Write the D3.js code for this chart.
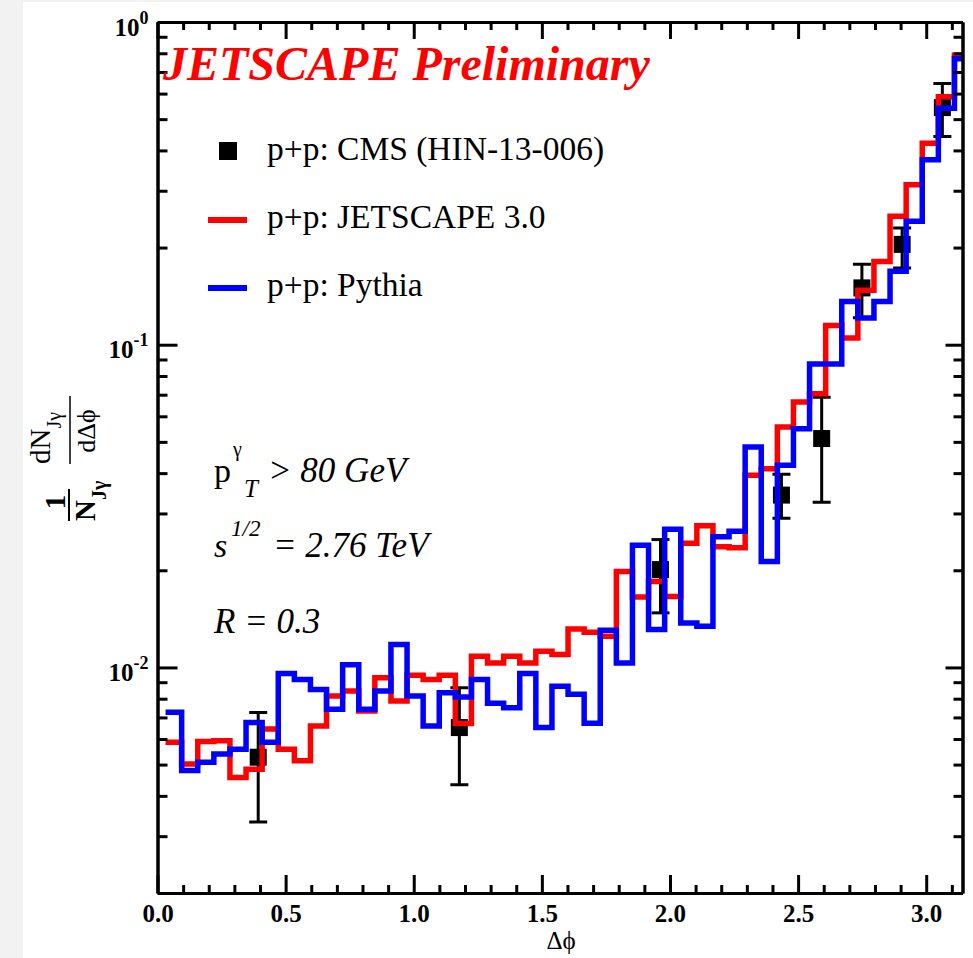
<!DOCTYPE html>
<html>
<head>
  <meta charset="utf-8">
  <title>Photon-jet azimuthal correlation, p+p</title>
  <script src="https://d3js.org/d3.v7.min.js"></script>
  <style>
    body { margin: 0; background: #f2f2f2; }
    text { font-family: "Liberation Serif", "Times New Roman", serif; }
    .tick line { stroke: #000; stroke-width: 3; }
    .domain { stroke: #000; stroke-width: 3; }
  </style>
</head>
<body>
  <div id="chart"></div>

  <script>
    // histogram bins: 50 bins of width pi/50, bin k centred at k*pi/50
    const nBins = 50;
    const binWidth = Math.PI / nBins;

    // p+p: JETSCAPE 3.0 (red)
    const jetscape = [
      0.00586, 0.00502, 0.00589, 0.00593, 0.00456, 0.00484, 0.00644, 0.00558, 0.00514, 0.00659,
      0.00816, 0.00845, 0.00733, 0.00929, 0.00787, 0.00945, 0.00918, 0.00945, 0.00670, 0.01084,
      0.01033, 0.01084, 0.01033, 0.01123, 0.01097, 0.01316, 0.01285, 0.01249, 0.01983, 0.01653,
      0.01847, 0.01660, 0.02426, 0.02750, 0.02366, 0.02350, 0.03940, 0.04130, 0.05560, 0.06640,
      0.07050, 0.11460, 0.10500, 0.14750, 0.18100, 0.25000, 0.31300, 0.42100, 0.58700, 0.78900
    ];

    // p+p: Pythia (blue)
    const pythia = [
      0.00726, 0.00479, 0.00508, 0.00539, 0.00558, 0.00675, 0.00586, 0.00958, 0.00918, 0.00855,
      0.00742, 0.01020, 0.00742, 0.00845, 0.01178, 0.00816, 0.00659, 0.00835, 0.00810, 0.00918,
      0.00775, 0.00750, 0.00958, 0.00652, 0.00875, 0.00826, 0.00672, 0.01303, 0.01033, 0.02390,
      0.01310, 0.02680, 0.01374, 0.01342, 0.02540, 0.02640, 0.04820, 0.02130, 0.04230, 0.05490,
      0.08720, 0.08720, 0.13600, 0.12100, 0.13600, 0.16900, 0.24140, 0.37400, 0.54000, 0.77000
    ];

    // p+p: CMS (HIN-13-006)
    const cmsX    = [0.393, 1.178, 1.963, 2.435, 2.592, 2.749, 2.906, 3.063];
    const cmsY    = [0.00527, 0.00651, 0.0201, 0.0342, 0.0512, 0.150, 0.2046, 0.543];
    const cmsHigh = [0.00725, 0.00865, 0.0249, 0.0397, 0.0688, 0.1774, 0.230, 0.645];
    const cmsLow  = [0.00332, 0.00433, 0.01476, 0.0290, 0.0325, 0.1213, 0.173, 0.442];

    const xMajorTicks = [0, 0.5, 1.0, 1.5, 2.0, 2.5, 3.0];
    const xMinorTicks = [0.1, 0.2, 0.3, 0.4, 0.6, 0.7, 0.8, 0.9, 1.1, 1.2, 1.3, 1.4, 1.6, 1.7, 1.8, 1.9,
                         2.1, 2.2, 2.3, 2.4, 2.6, 2.7, 2.8, 2.9, 3.1];
    const yMajorTicks = [1, 0.1, 0.01];
    const yExponents = ["0", "-1", "-2"];
    const yMinorTicks = [0.002, 0.003, 0.004, 0.005, 0.006, 0.007, 0.008, 0.009,
                         0.02, 0.03, 0.04, 0.05, 0.06, 0.07, 0.08, 0.09,
                         0.2, 0.3, 0.4, 0.5, 0.6, 0.7, 0.8, 0.9];

    const legendItems = [
      { label: "p+p: CMS (HIN-13-006)", kind: "marker", color: "#000" },
      { label: "p+p: JETSCAPE 3.0", kind: "line", color: "#ff0000" },
      { label: "p+p: Pythia", kind: "line", color: "#0000ff" }
    ];

    const W = 973, H = 958;
    const pLeft = 157.5, pRight = 962.5, pTop = 22, pBottom = 893;

    const svg = d3.select("#chart").append("svg")
      .attr("width", W)
      .attr("height", H)
      .style("display", "block");

    // white panel
    svg.append("rect")
      .attr("x", 23).attr("y", 2)
      .attr("width", W - 23).attr("height", H - 2)
      .attr("fill", "#fff");

    const x = d3.scaleLinear().domain([0, Math.PI]).range([pLeft, pRight]);
    const y = d3.scaleLog().domain([0.002, 1]).range([pBottom, pTop]);

    svg.append("clipPath").attr("id", "plotclip")
      .append("rect")
      .attr("x", pLeft).attr("y", pTop)
      .attr("width", pRight - pLeft).attr("height", pBottom - pTop);

    const plot = svg.append("g").attr("clip-path", "url(#plotclip)");

    // CMS points with error bars
    const cms = cmsX.map((v, i) => ({ x: v, y: cmsY[i], lo: cmsLow[i], hi: cmsHigh[i] }));
    const pts = plot.selectAll(".cms").data(cms).enter().append("g").attr("class", "cms");
    pts.append("line")
      .attr("x1", d => x(d.x)).attr("x2", d => x(d.x))
      .attr("y1", d => y(d.lo)).attr("y2", d => y(d.hi))
      .attr("stroke", "#000").attr("stroke-width", 3);
    pts.selectAll(".cap").data(d => [[d.x, d.lo], [d.x, d.hi]]).enter().append("line")
      .attr("x1", d => x(d[0]) - 9).attr("x2", d => x(d[0]) + 9)
      .attr("y1", d => y(d[1])).attr("y2", d => y(d[1]))
      .attr("stroke", "#000").attr("stroke-width", 3);
    pts.append("rect")
      .attr("x", d => x(d.x) - 8.5).attr("y", d => y(d.y) - 8.5)
      .attr("width", 17).attr("height", 17)
      .attr("fill", "#000");

    // step histograms
    function stepPoints(vals) {
      const p = vals.map((v, i) => [(i + 0.5) * binWidth, v]);
      p.push([Math.min((nBins + 0.5) * binWidth, Math.PI + 0.02), vals[vals.length - 1]]);
      return p;
    }
    const stepLine = d3.line()
      .x(d => x(d[0]))
      .y(d => y(d[1]))
      .curve(d3.curveStepAfter);

    [[jetscape, "#ff0000"], [pythia, "#0000ff"]].forEach(([vals, col]) => {
      plot.append("path")
        .datum(stepPoints(vals))
        .attr("d", stepLine)
        .attr("fill", "none")
        .attr("stroke", col)
        .attr("stroke-width", 5.5)
        .attr("stroke-linejoin", "miter");
    });

    // axes (ticks point inward on all four sides)
    const xAxisB = svg.append("g").attr("transform", `translate(0,${pBottom})`)
      .call(d3.axisBottom(x).tickValues(xMajorTicks).tickSize(-18).tickSizeOuter(0)
        .tickPadding(11).tickFormat(d3.format(".1f")));
    svg.append("g").attr("transform", `translate(0,${pBottom})`)
      .call(d3.axisBottom(x).tickValues(xMinorTicks).tickSize(-8).tickSizeOuter(0).tickFormat(""));
    svg.append("g").attr("transform", `translate(0,${pTop})`)
      .call(d3.axisTop(x).tickValues(xMajorTicks).tickSize(-17).tickSizeOuter(0).tickFormat(""));
    svg.append("g").attr("transform", `translate(0,${pTop})`)
      .call(d3.axisTop(x).tickValues(xMinorTicks).tickSize(-8).tickSizeOuter(0).tickFormat(""));

    const yAxisL = svg.append("g").attr("transform", `translate(${pLeft},0)`)
      .call(d3.axisLeft(y).tickValues(yMajorTicks).tickSize(-20).tickSizeOuter(0).tickPadding(9));
    svg.append("g").attr("transform", `translate(${pLeft},0)`)
      .call(d3.axisLeft(y).tickValues(yMinorTicks).tickSize(-10).tickSizeOuter(0).tickFormat(""));
    svg.append("g").attr("transform", `translate(${pRight},0)`)
      .call(d3.axisRight(y).tickValues(yMajorTicks).tickSize(-17).tickSizeOuter(0).tickFormat(""));
    svg.append("g").attr("transform", `translate(${pRight},0)`)
      .call(d3.axisRight(y).tickValues(yMinorTicks).tickSize(-9).tickSizeOuter(0).tickFormat(""));

    xAxisB.selectAll(".tick text")
      .attr("font-family", "Liberation Serif")
      .attr("font-size", 25).attr("font-weight", "bold").attr("fill", "#000");

    yAxisL.selectAll(".tick text").each(function(d, i) {
      const t = d3.select(this).text("")
        .attr("font-family", "Liberation Serif")
        .attr("font-weight", "bold").attr("fill", "#000")
        .attr("dy", 13);
      t.append("tspan").attr("font-size", 25).text("10");
      t.append("tspan").attr("font-size", 18).attr("dy", -12).text(yExponents[i]);
    });

    // x-axis title
    svg.append("text")
      .attr("x", 561).attr("y", 949)
      .attr("text-anchor", "middle")
      .attr("font-size", 25)
      .text("\u0394\u03d5");

    // y-axis title: (1/N_Jγ) dN_Jγ/dΔϕ, rotated
    const yl = svg.append("g").attr("transform", "rotate(-90)");
    yl.append("text")
      .attr("x", -502).attr("y", 65)
      .attr("text-anchor", "middle")
      .attr("font-size", 29).attr("font-weight", "bold")
      .text("1");
    yl.append("line")
      .attr("x1", -521).attr("x2", -489).attr("y1", 69).attr("y2", 69)
      .attr("stroke", "#000").attr("stroke-width", 2);
    const nj = yl.append("text")
      .attr("x", -521).attr("y", 95)
      .attr("font-size", 29).attr("font-weight", "bold");
    nj.append("tspan").text("N");
    nj.append("tspan").attr("font-size", 20).attr("dy", 11).text("J\u03b3");

    const dn = yl.append("text")
      .attr("x", -464).attr("y", 50)
      .attr("font-size", 29);
    dn.append("tspan").text("dN");
    dn.append("tspan").attr("font-size", 20).attr("dy", 11).text("J\u03b3");
    yl.append("line")
      .attr("x1", -464).attr("x2", -396).attr("y1", 70).attr("y2", 70)
      .attr("stroke", "#000").attr("stroke-width", 1.5);
    yl.append("text")
      .attr("x", -431).attr("y", 95)
      .attr("text-anchor", "middle")
      .attr("font-size", 26)
      .text("d\u0394\u03d5");

    // preliminary label
    svg.append("text")
      .attr("x", 163).attr("y", 80)
      .attr("font-size", 48).attr("font-weight", "bold").attr("font-style", "italic")
      .attr("fill", "#ff0000")
      .text("JETSCAPE Preliminary");

    // legend
    const legendY = [151, 220, 288];
    const lg = svg.selectAll(".legend").data(legendItems).enter().append("g")
      .attr("class", "legend")
      .attr("transform", (d, i) => `translate(0,${legendY[i]})`);
    lg.filter(d => d.kind === "marker").append("rect")
      .attr("x", 219).attr("y", -9).attr("width", 18).attr("height", 18)
      .attr("fill", d => d.color);
    lg.filter(d => d.kind === "line").append("line")
      .attr("x1", 208).attr("x2", 247).attr("y1", 0).attr("y2", 0)
      .attr("stroke", d => d.color).attr("stroke-width", 6);
    lg.append("text")
      .attr("x", 267).attr("y", (d, i) => i === 0 ? 9 : 8)
      .attr("font-size", 33.5)
      .text(d => d.label);

    // kinematic annotations
    svg.append("text").attr("x", 214).attr("y", 482).attr("font-size", 34).text("p");
    svg.append("text").attr("x", 233).attr("y", 456).attr("font-size", 20).text("\u03b3");
    svg.append("text").attr("x", 244).attr("y", 497).attr("font-size", 25)
      .attr("font-style", "italic").text("T");
    svg.append("text").attr("x", 268).attr("y", 482).attr("font-size", 35)
      .attr("font-style", "italic").text("> 80 GeV");

    svg.append("text").attr("x", 214).attr("y", 557).attr("font-size", 34)
      .attr("font-style", "italic").text("s");
    svg.append("text").attr("x", 231).attr("y", 536).attr("font-size", 23)
      .attr("font-style", "italic").text("1/2");
    svg.append("text").attr("x", 273).attr("y", 557).attr("font-size", 35)
      .attr("font-style", "italic").text("= 2.76 TeV");

    svg.append("text").attr("x", 214).attr("y", 633).attr("font-size", 35)
      .attr("font-style", "italic").text("R = 0.3");
  </script>
</body>
</html>
